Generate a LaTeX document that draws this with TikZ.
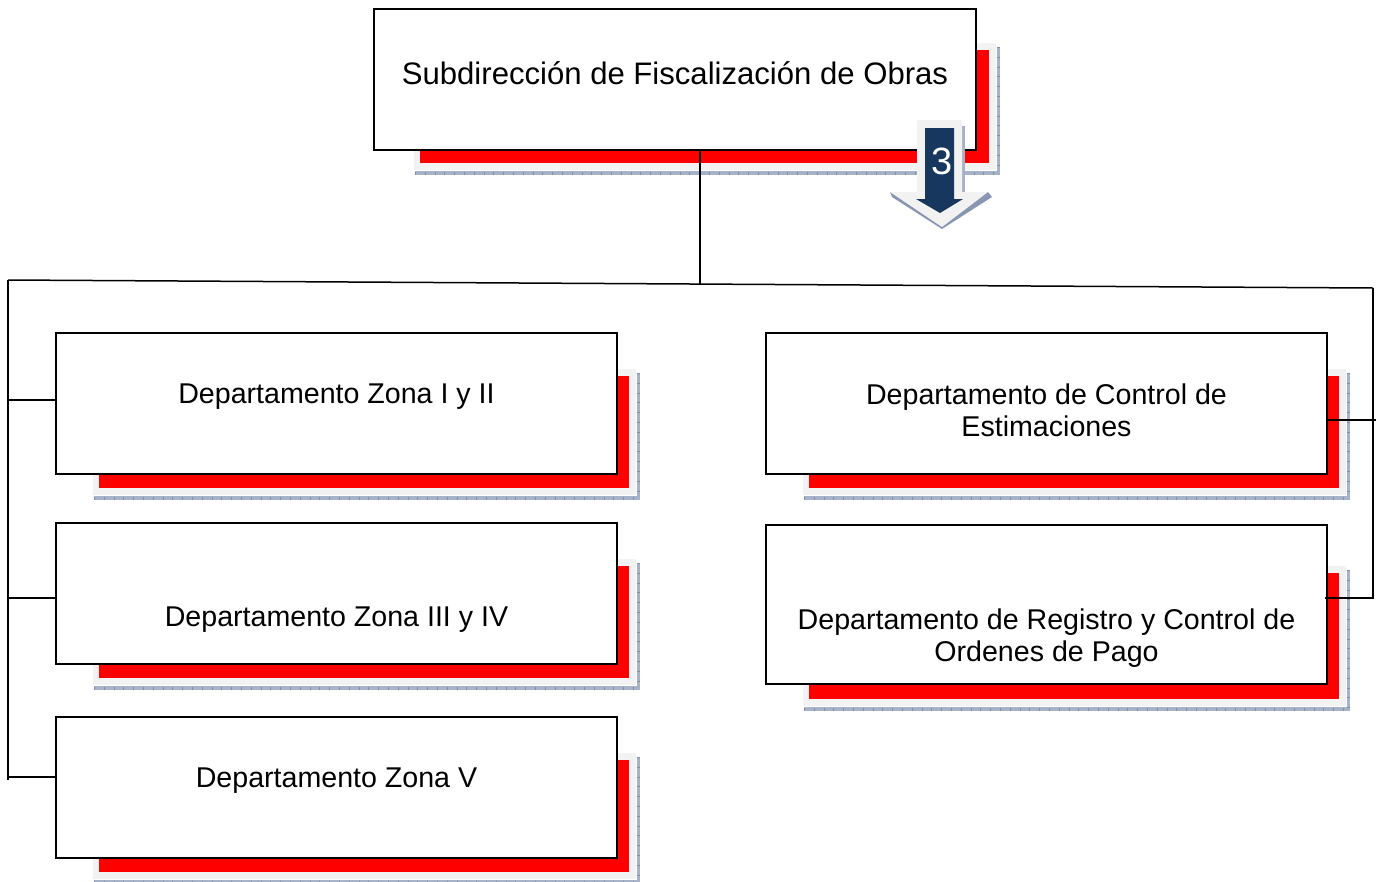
\documentclass[tikz,border=0pt]{standalone}
\usepackage{fontspec}
\setmainfont{Liberation Sans}
\definecolor{halo}{HTML}{F2F2F2}
\definecolor{edgeblue}{HTML}{A6B2C8}
\definecolor{edgetick}{HTML}{7F8FAB}
\definecolor{arrowblue}{HTML}{17375E}
\tikzset{
  orgbox/.style={draw=black,line width=1.6pt,fill=white,inner sep=0pt,align=center,font=\fontsize{28.6}{32}\selectfont},
  topfont/.style={font=\fontsize{31.1}{34}\selectfont},
  conn/.style={draw=black,line width=1.5pt},
  ticks/.style={draw=edgetick,line width=3pt,dash pattern=on 0.8pt off 9pt},
}
\newcommand{\shad}[4]{%
  \fill[halo] (#1-6,#2-7) rectangle (#3+7,#4+7);
  \fill[red] (#1,#2) rectangle (#3,#4);
  \fill[edgeblue] (#3+8,#2-3) rectangle (#3+11,#4+12);
  \fill[edgeblue] (#1-5,#4+8) rectangle (#3+11,#4+12);
  \draw[ticks] (#3+9.5,#2-3) -- (#3+9.5,#4+11);
  \draw[ticks] (#1-5,#4+10) -- (#3+11,#4+10);
}
\newcommand{\orgnode}[8][]{%
  \node[orgbox,#1,minimum width=#5pt-#3pt,minimum height=#6pt-#4pt] (#2) at ({(#3+#5)/2},{(#4+#6)/2})
    {\raisebox{#7pt}[0pt][0pt]{\begin{tabular}{@{}c@{}}#8\end{tabular}}};
}
\begin{document}
\begin{tikzpicture}[x=1pt,y=-1pt]
\useasboundingbox (0,0) rectangle (1378,881);
\fill[white] (0,0) rectangle (1378,881);
% shadows
\shad{420}{50}{989}{163}
\shad{99}{376}{629}{488}
\shad{99}{566}{629}{678}
\shad{99}{760}{629}{872}
\shad{809}{376}{1339}{488}
\shad{809}{573}{1339}{699}
% boxes
\orgnode[topfont]{top}{374}{9}{976}{150}{-4}{Subdirección de Fiscalización de Obras}
\orgnode{za}{56}{333}{617}{474}{0}{Departamento Zona I y II}
\orgnode{zb}{56}{523}{617}{664}{-33}{Departamento Zona III y IV}
\orgnode{zc}{56}{717}{617}{858}{0}{Departamento Zona V}
\orgnode{ce}{766}{333}{1327}{474}{-17}{Departamento de Control de\\Estimaciones}
\orgnode{ro}{766}{525}{1327}{684}{-41}{Departamento de Registro y Control de\\Ordenes de Pago}
% connectors
\coordinate (busL) at (8,280);
\coordinate (busR) at (1373,288);
\coordinate (busEnd) at (8,780);
\coordinate (busM) at (700,285);
\draw[conn] (busL) -- (busR);
\draw[conn] (top.south -| busM) -- (busM);
\draw[conn] (busL) -- (busEnd);
\draw[conn] ([yshift=3.5pt]za.west) -- ([yshift=3.5pt]za.west -| busL);
\draw[conn] ([yshift=-4.5pt]zb.west) -- ([yshift=-4.5pt]zb.west -| busL);
\draw[conn] ([yshift=10.5pt]zc.west) -- ([yshift=10.5pt]zc.west -| busL);
\draw[conn] ([yshift=-16.5pt]ce.east) -- ([xshift=48pt,yshift=-16.5pt]ce.east);
\draw[conn] (busR) -- ([yshift=6.5pt]ro.east -| busR) -- ([xshift=-3pt,yshift=6.5pt]ro.east);
% numbered arrow
\fill[edgeblue] (962,126) rectangle (965,192);
\fill[edgetick!80!edgeblue] (892,197) -- (942,229) -- (992,197) -- (988,192) -- (890,192) -- cycle;
\fill[halo] (917,120) -- (962,120) -- (962,192) -- (988,192) -- (942,227) -- (890,192) -- (917,192) -- cycle;
\fill[arrowblue] (925,128) -- (954,128) -- (954,199) -- (963,199) -- (940,213) -- (916,199) -- (925,199) -- cycle;
\node[text=white,font=\fontsize{38}{40}\selectfont,inner sep=0pt] (num) at (942,161) {3};
\end{tikzpicture}
\end{document}
